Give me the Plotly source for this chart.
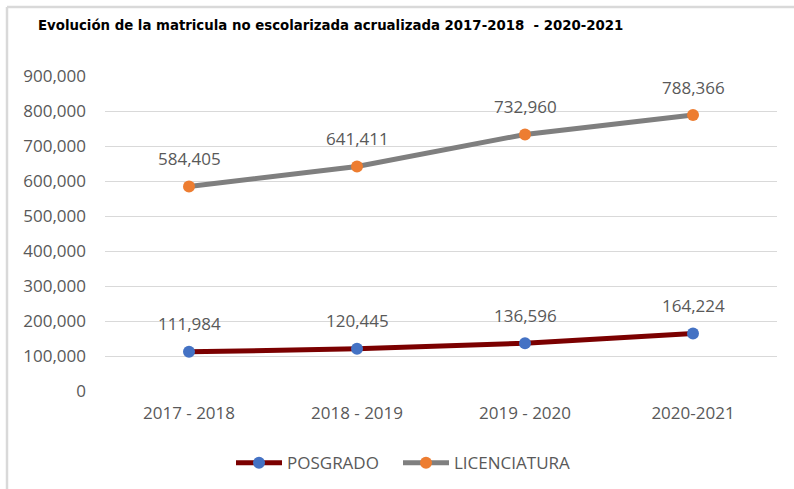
import plotly.graph_objects as go

periods = ["2017 - 2018", "2018 - 2019", "2019 - 2020", "2020-2021"]
posgrado = [111984, 120445, 136596, 164224]
licenciatura = [584405, 641411, 732960, 788366]
y_ticks = [0, 100000, 200000, 300000, 400000, 500000, 600000, 700000, 800000, 900000]
title_text = "Evolución de la matricula no escolarizada acrualizada 2017-2018  - 2020-2021"

FONT = "Open Sans, Liberation Sans, Arial, sans-serif"
TXT = "#595959"

fig = go.Figure()
fig.add_trace(go.Scatter(
    x=periods, y=posgrado, name="POSGRADO", mode="lines+markers",
    line=dict(color="#7B0000", width=5),
    marker=dict(color="#4472C4", size=12),
    legend="legend",
))
fig.add_trace(go.Scatter(
    x=periods, y=licenciatura, name="LICENCIATURA", mode="lines+markers",
    line=dict(color="#7F7F7F", width=5),
    marker=dict(color="#ED7D31", size=12),
    legend="legend2",
))

for series in (posgrado, licenciatura):
    for xv, yv in zip(periods, series):
        fig.add_annotation(x=xv, y=yv, text=f"{yv:,}", showarrow=False,
                           yshift=28, font=dict(family=FONT, size=17, color=TXT))

# title as annotation for precise placement
fig.add_annotation(xref="paper", yref="paper", x=(36 - 105) / 672, y=(391 - 25) / 315,
                   xanchor="left", yanchor="middle", showarrow=False,
                   text=f"<b>{title_text}</b>",
                   font=dict(family="Liberation Sans Narrow, DejaVu Sans Condensed, Arial Narrow, sans-serif",
                             size=14.8, color="black"))

# left and top border of the chart area
bx = (7 - 105) / 672
by = (391 - 7) / 315
fig.add_shape(type="line", xref="paper", yref="paper", x0=bx, x1=bx, y0=-0.32, y1=by,
              line=dict(color="#D9D9D9", width=2.5))
fig.add_shape(type="line", xref="paper", yref="paper", x0=bx, x1=1.1, y0=by, y1=by,
              line=dict(color="#D9D9D9", width=2.5))

leg_common = dict(orientation="h", xanchor="left", y=-0.229, yanchor="middle",
                  font=dict(family=FONT, size=17, color=TXT), itemwidth=46,
                  bgcolor="rgba(0,0,0,0)")

fig.update_layout(
    width=794, height=489,
    margin=dict(l=105, r=17, t=76, b=98, autoexpand=False),
    paper_bgcolor="white", plot_bgcolor="white",
    showlegend=True,
    legend=dict(x=(231 - 105) / 672, **leg_common),
    legend2=dict(x=(398 - 105) / 672, **leg_common),
    xaxis=dict(showgrid=False, showline=False, zeroline=False, automargin=False,
               range=[-0.5, 3.5],
               tickfont=dict(family=FONT, size=17, color=TXT), ticks="",
               ticklabelstandoff=10),
    yaxis=dict(range=[0, 900000], tickvals=y_ticks, tickformat=",", automargin=False,
               showgrid=True, gridcolor="#D9D9D9", gridwidth=1, zeroline=False,
               showline=False, ticks="",
               tickfont=dict(family=FONT, size=17, color=TXT),
               ticklabelstandoff=18),
)

fig.write_html("out.html", config={"displayModeBar": False},
               post_script="document.body.style.margin='0';")
